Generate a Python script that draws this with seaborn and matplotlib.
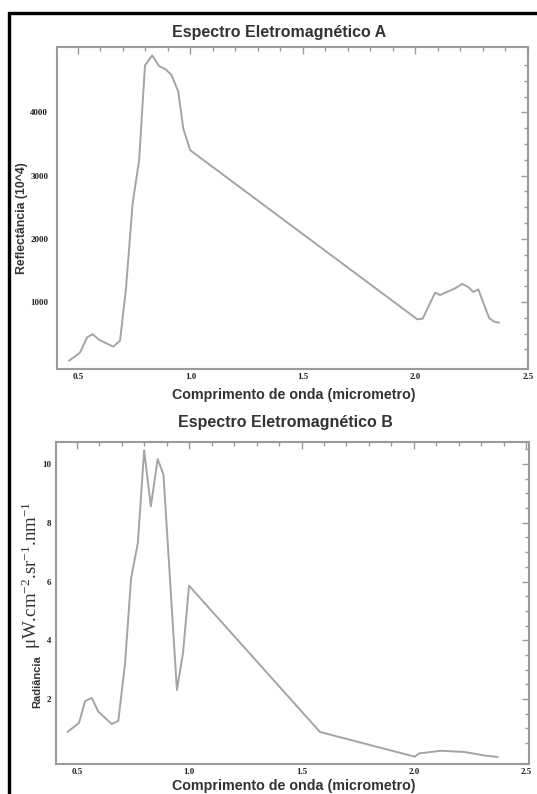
import numpy as np
import pandas as pd
import matplotlib
matplotlib.use("Agg")
import matplotlib.pyplot as plt
import seaborn as sns
from matplotlib.ticker import FixedLocator, FormatStrFormatter
from matplotlib.patches import Rectangle
from matplotlib.font_manager import FontProperties

# ---- data ----
wl_a = [0.46, 0.509, 0.541, 0.565, 0.595, 0.657, 0.687, 0.713, 0.743, 0.772,
        0.798, 0.830, 0.861, 0.890, 0.916, 0.946, 0.968, 0.999,
        2.008, 2.032, 2.087, 2.109, 2.153, 2.176, 2.208, 2.232, 2.257, 2.279,
        2.328, 2.349, 2.371]
refl_a = [70, 198, 442, 490, 400, 293, 388, 1190, 2560, 3245,
          4743, 4900, 4730, 4680, 4590, 4325, 3745, 3400,
          726, 737, 1147, 1110, 1180, 1216, 1285, 1242, 1158, 1200,
          742, 690, 673]

wl_b = [0.458, 0.509, 0.536, 0.566, 0.595, 0.655, 0.684, 0.714, 0.741, 0.771,
        0.799, 0.829, 0.859, 0.885, 0.945, 0.972, 0.999,
        1.582, 2.004, 2.024, 2.12, 2.225, 2.314, 2.374]
rad_b = [0.88, 1.19, 1.93, 2.04, 1.57, 1.15, 1.26, 3.22, 6.12, 7.31,
         10.47, 8.56, 10.17, 9.65, 2.31, 3.56, 5.86,
         0.88, 0.04, 0.15, 0.24, 0.2, 0.08, 0.03]

title_a = "Espectro Eletromagnético A"
title_b = "Espectro Eletromagnético B"
xlabel = "Comprimento de onda (micrometro)"
ylabel_a = "Reflectância (10^4)"
ylabel_b1 = "Radiância"
ylabel_b2 = r"μW.cm$^{\mathrm{-2}}$.sr$^{\mathrm{-1}}$.nm$^{\mathrm{-1}}$"

x_major = [0.5, 1.0, 1.5, 2.0, 2.5]
ya_major = [1000, 2000, 3000, 4000]
yb_major = [2, 4, 6, 8, 10]

# ---- style ----
sns.set_theme(style="white")
plt.rcParams['font.family'] = ['Liberation Sans', 'DejaVu Sans']
plt.rcParams['mathtext.fontset'] = 'custom'
plt.rcParams['mathtext.rm'] = 'Liberation Serif'
plt.rcParams['mathtext.it'] = 'Liberation Serif:italic'

W, H = 537, 794
fig = plt.figure(figsize=(W / 100, H / 100), dpi=100)
fig.patch.set_facecolor('white')

def fx(px):
    return px / W

def fy(py):
    return 1 - py / H

spine_c = '#9a9a9a'
line_c = '#a4a4a4'

ax1 = fig.add_axes([fx(57), fy(369), fx(528) - fx(57), fy(47) - fy(369)])
ax2 = fig.add_axes([fx(56), fy(764), fx(529) - fx(56), fy(441.7) - fy(764)])

df_a = pd.DataFrame({'wl': wl_a, 'v': refl_a})
df_b = pd.DataFrame({'wl': wl_b, 'v': rad_b})
sns.lineplot(data=df_a, x='wl', y='v', ax=ax1, color=line_c, linewidth=1.4, sort=False)
sns.lineplot(data=df_b, x='wl', y='v', ax=ax2, color=line_c, linewidth=1.4, sort=False)

ax1.set_xlim(0.407, 2.5)
ax1.set_ylim(-60, 5033)
ax2.set_xlim(0.4065, 2.513)
ax2.set_ylim(-0.21, 10.76)

x_minor = [round(v, 1) for v in np.arange(0.5, 2.51, 0.1) if round(v, 1) not in x_major]
ya_minor = [v for v in range(250, 5000, 250) if v not in ya_major]
yb_minor = [v for v in np.arange(0.5, 10.6, 0.5) if v not in yb_major]

tick_font = dict(family='Liberation Serif', weight='bold', size=6.5)

for ax, ymaj, ymin, ypad in [(ax1, ya_major, ya_minor, 6.3), (ax2, yb_major, yb_minor, 3.4)]:
    ax.xaxis.set_major_locator(FixedLocator(x_major))
    ax.xaxis.set_minor_locator(FixedLocator(x_minor))
    ax.yaxis.set_major_locator(FixedLocator(ymaj))
    ax.yaxis.set_minor_locator(FixedLocator(ymin))
    ax.xaxis.set_major_formatter(FormatStrFormatter('%.1f'))
    ax.yaxis.set_major_formatter(FormatStrFormatter('%d'))
    ax.tick_params(which='both', direction='in', top=True, right=True,
                   color=spine_c, width=1.0)
    ax.tick_params(axis='x', which='major', length=5, pad=3, labelcolor='#222222')
    ax.tick_params(axis='y', which='major', length=5, pad=ypad, labelcolor='#222222')
    ax.tick_params(which='minor', length=3)
    for lab in ax.get_xticklabels() + ax.get_yticklabels():
        lab.set_fontproperties(FontProperties(**tick_font))
    for s in ax.spines.values():
        s.set_color(spine_c)
        s.set_linewidth(1.5)
    ax.set_xlabel('')
    ax.set_ylabel('')
    ax.set_facecolor('white')

lab_c = '#333333'
fig.text(fx(279), fy(33), title_a, ha='center', va='center', fontsize=11.5,
         fontweight='bold', color=lab_c)
fig.text(fx(294), fy(395), xlabel, ha='center', va='center', fontsize=10.3,
         fontweight='bold', color=lab_c)
fig.text(fx(285), fy(423), title_b, ha='center', va='center', fontsize=11.5,
         fontweight='bold', color=lab_c)
fig.text(fx(294), fy(786), xlabel, ha='center', va='center', fontsize=10.3,
         fontweight='bold', color=lab_c)

fig.text(fx(22), fy(218), ylabel_a, ha='center', va='center', rotation=90,
         fontsize=8.8, fontweight='bold', color=lab_c)
fig.text(fx(37), fy(682), ylabel_b1, ha='center', va='center', rotation=90,
         fontsize=8, fontweight='bold', color=lab_c)
fig.text(fx(31.5), fy(575), ylabel_b2, ha='center', va='center', rotation=90,
         fontsize=13.6, family='Liberation Serif', color=lab_c)

# black frame on left and top
fig.patches.append(Rectangle((fx(8), fy(14)), 0.0037, -1, transform=fig.transFigure,
                             color='black', zorder=10))
fig.patches.append(Rectangle((fx(8), fy(14)), 1.0, 0.0025, transform=fig.transFigure,
                             color='black', zorder=10))

fig.savefig('out.png', dpi=100, facecolor='white')
